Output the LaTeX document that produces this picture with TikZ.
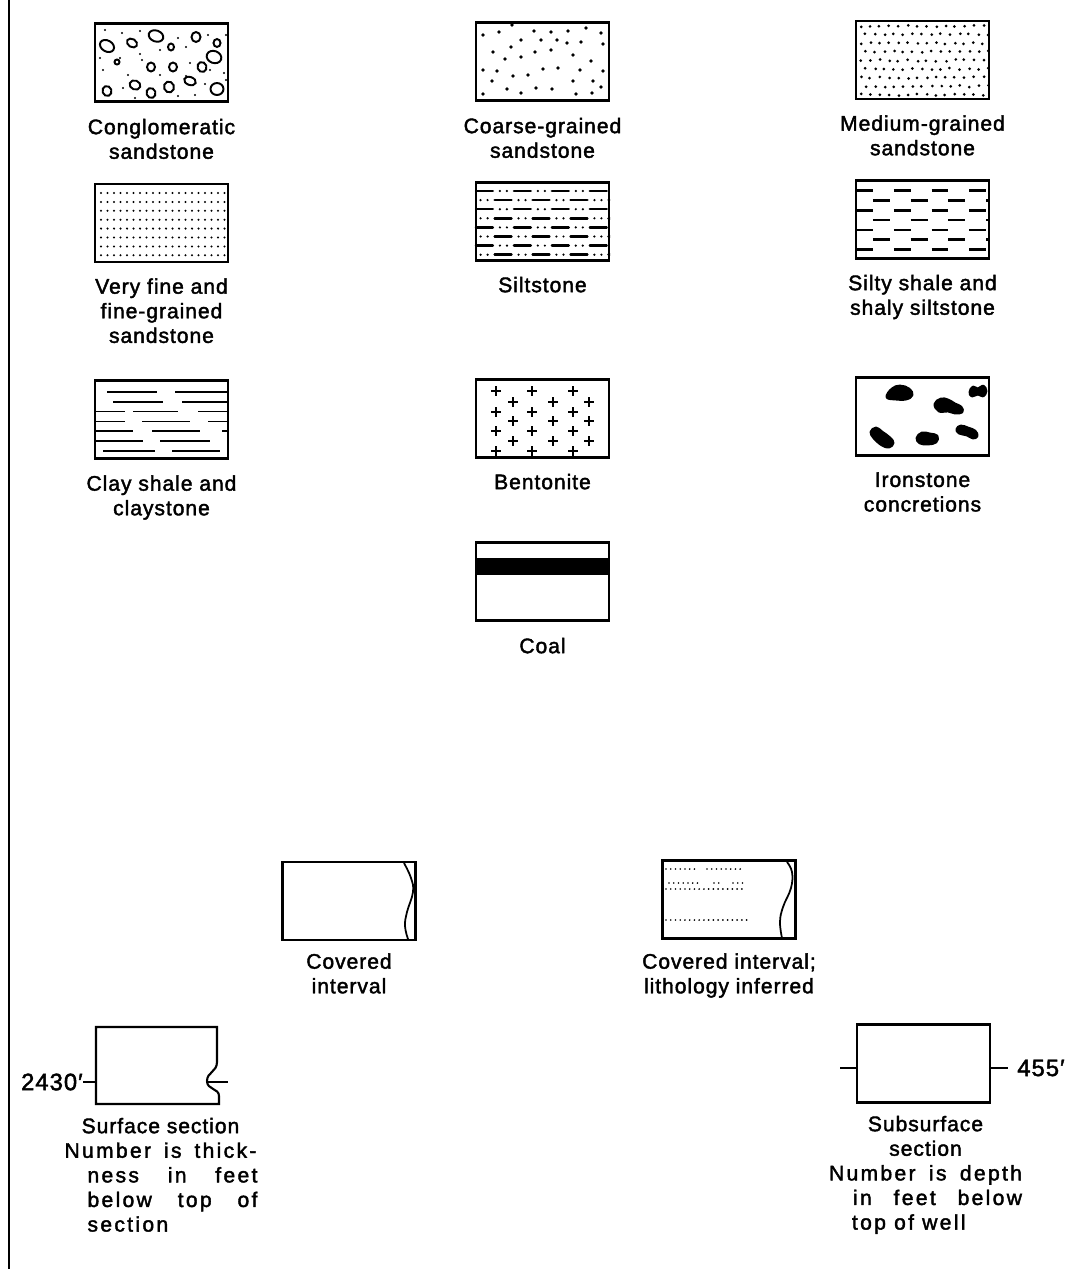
\documentclass[tikz,border=0pt]{standalone}
\usepackage{fontspec}
\setmainfont{Liberation Sans}[LetterSpace=4.5, FakeBold=1.9]
\newfontfamily\widefont{Liberation Sans}[LetterSpace=11, FakeBold=1.9]
\usetikzlibrary{positioning}

\tikzset{
  legbox/.style={draw, line width=1.2pt, minimum width=2.66cm, minimum height=1.56cm, inner sep=0pt},
  legtext/.style={align=center, inner sep=0pt, font=\fontsize{12}{14}\selectfont},
  notetext/.style={align=left, inner sep=0pt, font=\fontsize{12}{14}\selectfont},
  depthtext/.style={inner sep=0pt, font=\fontsize{13.5}{14}\selectfont},
  grain/.style={line width=1.1pt},
  rule/.style={line width=1pt},
  heavyrule/.style={line width=1.4pt},
  blob/.style={line width=1.6pt, line join=round},
  tick/.style={line width=1.1pt}
}

\begin{document}
\begin{tikzpicture}[x=0.02cm, y=-0.02cm]
\useasboundingbox (0,0) rectangle (1066,1269);
\draw[line width=1.3pt] (9,0) -- (9,1269);

% Row 1
\node[legbox] (conglom) at (161.5,62.5) {};
\node[legbox] (coarse) at (542.5,61.5) {};
\node[legbox] (medium) at (922.5,60) {};
\node[legtext, below=0.32cm of conglom] (conglomtxt) {Conglomeratic\\sandstone};
\node[legtext, below=0.32cm of coarse] (coarsetxt) {Coarse-grained\\sandstone};
\node[legtext, below=0.3cm of medium] (mediumtxt) {Medium-grained\\sandstone};

% pebbles and grains
\begin{scope}
  \clip (conglom.south west) rectangle (conglom.north east);
  \foreach \x/\y/\a/\b/\r in {156/36/7.5/5.5/-20, 107/46/7.5/5.5/-30, 132/43/5.5/4/-30, 196/37/4.5/5/0,
      171/47/3/3.5/0, 217/43/3.5/4/0, 214/57/7.5/6/-20, 117/62/2.5/2.5/0, 151/67/4/4.5/0,
      173/67/4/4.5/0, 202/67/4.5/5/20, 135/85/5.5/4.5/-20, 169/87/5/5.5/20, 190/81/6/4/-20,
      107/91/4.5/5/20, 151/93/4.5/5/20, 217/89/6.5/6/0}
    \draw[grain, rotate around={\r:(\x,\y)}] (\x,\y) ellipse ({\a*0.02cm} and {\b*0.02cm});
  \foreach \x/\y in {105/30, 122/33, 140/31, 186/47, 178/38, 208/35, 226/35, 120/58, 142/60,
      190/63, 210/70, 224/73, 103/70, 128/75, 160/75, 186/76, 205/84, 123/88, 178/96, 195/95,
      135/98, 226/80, 100/58, 160/50, 140/54}
    \fill (\x,\y) circle (0.7pt);
\end{scope}
\foreach \x/\y in {512/25, 483/35, 499/32, 534/31, 551/32, 568/31, 586/28, 601/33, 521/40,
    541/40, 557/40, 567/43, 581/42, 603/44, 493/52, 511/47, 535/52, 551/50, 505/59, 521/57,
    573/55, 591/61, 483/70, 497/71, 543/69, 558/68, 580/70, 603/71, 492/81, 513/76, 528/75,
    573/81, 593/81, 507/89, 536/88, 552/89, 601/87, 483/94, 521/93, 576/94, 592/93}
  \fill (\x,\y) circle (1.05pt);
\pgfmathsetseed{11}
\foreach \i in {0,...,8}
  \foreach \j in {0,...,13} {
    \pgfmathsetmacro\px{861+\j*9.4+mod(\i,2)*4.7+2*rnd-1}
    \pgfmathsetmacro\py{26+\i*8.6+2*rnd-1}
    \fill (\px,\py) circle (0.85pt);
  }

% Row 2
\node[legbox] (finesand) at (161.5,223) {};
\node[legbox] (silt) at (542.5,221.5) {};
\node[legbox] (siltyshale) at (922.5,219.5) {};
\node[legtext, below=0.3cm of finesand] (finesandtxt) {Very fine and\\fine-grained\\sandstone};
\node[legtext, below=0.3cm of silt] (silttxt) {Siltstone};
\node[legtext, below=0.3cm of siltyshale] (siltyshaletxt) {Silty shale and\\shaly siltstone};

\foreach \i in {0,...,7}
  \foreach \j in {0,...,19}
    \fill ({101+\j*6.5},{193+\i*8.9}) circle (0.65pt);
\begin{scope}
  \clip (silt.south west) rectangle (silt.north east);
  \foreach \i in {0,...,7} {
    \pgfmathsetmacro\py{191+\i*9.1}
    \pgfmathsetmacro\ph{mod(\i,2)*11}
    \draw[heavyrule, line cap=round, dash pattern=on 9.6pt off 4pt on 0pt off 4pt on 0pt off 4pt,
      dash phase=\ph pt] (476,\py) -- (610,\py);
  }
\end{scope}
\begin{scope}
  \clip (siltyshale.south west) rectangle (siltyshale.north east);
  \foreach \i in {0,...,6} {
    \pgfmathsetmacro\py{190.7+\i*9.8}
    \pgfmathsetmacro\ph{mod(\i,2)*11.9}
    \draw[heavyrule, dash pattern=on 9.6pt off 11.9pt, dash phase=\ph pt] (856,\py) -- (990,\py);
  }
\end{scope}

% Row 3
\node[legbox] (clay) at (161.5,419.5) {};
\node[legbox] (bentonite) at (542.5,418.5) {};
\node[legbox] (ironstone) at (922.5,416.5) {};
\node[legtext, below=0.31cm of clay] (claytxt) {Clay shale and\\claystone};
\node[legtext, below=0.3cm of bentonite] (bentonitetxt) {Bentonite};
\node[legtext, below=0.31cm of ironstone] (ironstonetxt) {Ironstone\\concretions};

\foreach \y/\a/\b in {392/107/157, 392/175/227, 402/113/163, 402/182/227, 411.6/96/125,
    411.6/133/178, 411.6/198/228, 421.4/96/125, 421.4/142/190, 421.4/208/228, 431.2/96/133,
    431.2/152/200, 431.2/222/228, 441/96/143, 441/160/210, 450.8/103/155, 450.8/172/220}
  \draw[rule] (\a,\y) -- (\b,\y);
\foreach \x in {496,532,573}
  \foreach \y in {391,412,431,451}
    \draw[heavyrule] ({\x-5},\y) -- ({\x+5},\y) (\x,{\y-5}) -- (\x,{\y+5});
\foreach \x in {513,553,589}
  \foreach \y in {402,421,441}
    \draw[heavyrule] ({\x-5},\y) -- ({\x+5},\y) (\x,{\y-5}) -- (\x,{\y+5});
\filldraw[blob] plot[smooth cycle, tension=0.7] coordinates {(887,397) (892,389) (900,386) (909,389) (912,395) (906,399) (895,399)};
\filldraw[blob] plot[smooth cycle, tension=0.7] coordinates {(970,392) (973,387) (978,389) (983,386) (986,391) (983,396) (978,394) (972,396)};
\filldraw[blob] plot[smooth cycle, tension=0.7] coordinates {(935,404) (941,399) (948,400) (955,404) (961,407) (962,412) (955,413) (948,411) (939,411)};
\filldraw[blob] plot[smooth cycle, tension=0.7] coordinates {(871,432) (876,428) (882,432) (890,438) (893,443) (889,447) (882,445) (874,438)};
\filldraw[blob] plot[smooth cycle, tension=0.7] coordinates {(917,438) (922,433) (930,434) (937,436) (936,442) (928,444) (920,443)};
\filldraw[blob] plot[smooth cycle, tension=0.7] coordinates {(957,429) (961,426) (968,428) (975,431) (977,436) (973,438) (967,435) (959,433)};

% Coal
\node[legbox] (coal) at (542.5,581.5) {};
\node[legtext, below=0.32cm of coal] (coaltxt) {Coal};
\fill (476,558) rectangle (609,575);

% Covered intervals
\node[legbox] (covered) at (349,901) {};
\node[legbox] (inferred) at (729,899.5) {};
\node[legtext, below=0.24cm of covered] (coveredtxt) {Covered\\interval};
\node[legtext, below=0.27cm of inferred] (inferredtxt) {Covered interval;\\lithology inferred};
\draw[rule] plot[smooth, tension=0.7] coordinates {(404,863) (411,878) (413,892) (407,912) (405,926) (408,939)};
\draw[rule] plot[smooth, tension=0.7] coordinates {(787,862) (792,872) (791,888) (783,907) (780,922) (782,938)};
\foreach \y/\a/\b in {869/666/697, 869/707/743, 883/669/700, 883/714/722, 883/733/747,
    889/666/742, 920/666/747}
  \draw[line width=1.1pt, line cap=round, dash pattern=on 0pt off 2.7pt] (\a,\y) -- (\b,\y);

% Sections
\node[legbox, draw=none, minimum width=2.46cm] (surface) at (157.5,1065.5) {};
\draw[line width=1.2pt] (217,1027) -- (96,1027) -- (96,1104) -- (219,1104) -- (219,1096)
  .. controls (219,1088) and (207,1090) .. (207,1081)
  .. controls (207,1072) and (217,1072) .. (217,1062) -- cycle;
\node[depthtext, anchor=east] (depth2430) at (83,1082) {2430′};
\coordinate (surfL) at (96,1082);
\coordinate (surfR) at (228,1082);
\draw[tick] (depth2430) -- (surfL);
\draw[tick] (207,1082) -- (surfR);
\node[notetext, below=0.24cm of surface, xshift=0.07cm] (surfacetxt)
  {\makebox[3.84cm]{Surface section}\\
   \makebox[3.84cm][s]{\widefont Number is thick-}\\
   \hspace{0.46cm}\makebox[3.4cm][s]{\widefont ness in feet}\\
   \hspace{0.46cm}\makebox[3.4cm][s]{\widefont below top of}\\
   \hspace{0.46cm}{\widefont section}};

\node[legbox] (subsurface) at (923.5,1063.5) {};
\coordinate (subL) at (840,1068);
\coordinate (subR) at (857,1068);
\node[depthtext, anchor=west] (depth455) at (1017,1068) {455′};
\draw[tick] (subL) -- (subR);
\draw[tick, shorten >=5pt] (990,1068) -- (depth455);
\node[notetext, below=0.24cm of subsurface, xshift=0.04cm] (subsurfacetxt)
  {\makebox[3.86cm]{Subsurface}\\
   \makebox[3.86cm]{section}\\
   \makebox[3.86cm][s]{\widefont Number is depth}\\
   \hspace{0.48cm}\makebox[3.38cm][s]{\widefont in feet below}\\
   \hspace{0.46cm}{\widefont top of well}};
\end{tikzpicture}
\end{document}
